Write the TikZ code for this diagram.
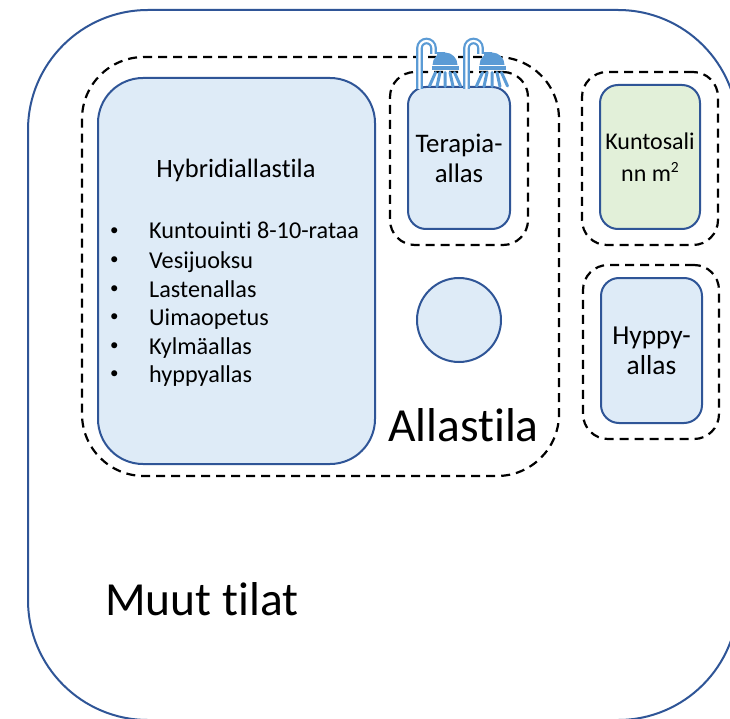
\documentclass[tikz,border=0pt]{standalone}
\usepackage{fontspec}
\setmainfont{Carlito}[Ligatures=NoCommon]
\definecolor{bord}{HTML}{2F5597}
\definecolor{lblue}{HTML}{DEEBF7}
\definecolor{lgreen}{HTML}{E2F0D9}
\definecolor{shw}{HTML}{5B9BD5}
\newcommand{\smallbullet}{\makebox[40pt][l]{\hspace{1pt}\raisebox{3.5pt}{\fontsize{17}{17}\selectfont •}}}
\tikzset{
  roomline/.style={draw=bord, line width=2pt},
  poolbox/.style={roomline, fill=lblue, inner sep=0pt, align=center},
  zonebox/.style={draw=black, line width=2.2pt, dash pattern=on 9pt off 6pt, inner sep=0pt},
  midtext/.style={font=\fontsize{26.5}{30}\selectfont},
  bigtext/.style={font=\fontsize{47.5}{56}\selectfont, inner sep=0pt},
  itemtext/.style={font=\fontsize{24.2}{30}\selectfont, inner sep=0pt, anchor=base west},
  showericon/.pic={
    \draw[shw, line width=2.2pt, double=white, double distance=2.2pt]
      (0,1) -- (0,-40) arc[start angle=180, end angle=360, radius=7] -- (14,-34);
    \fill[shw] (17.5,-36) rectangle (25.5,-32);
    \fill[shw] (13,-23) arc[start angle=180, end angle=360, radius=12.5] -- cycle;
    \fill[shw] (12,-21.6) rectangle (39,-18.4);
    \draw[shw, line width=3pt, line cap=round]
      (16,-15.5) -- (10,-2)
      (20.5,-15.5) -- (17.5,-1.5)
      (25.5,-15.5) -- (25.5,-1.5)
      (30.5,-15.5) -- (33.5,-1.5)
      (35,-15.5) -- (41,-2);
  }
}
\begin{document}
\begin{tikzpicture}[x=1pt,y=-1pt]
\useasboundingbox (0,0) rectangle (730,719);
\clip (0,0) rectangle (730,719);
\fill[white] (0,0) rectangle (730,719);
% outer space
\node[roomline, rounded corners=120pt, minimum width=710pt, minimum height=710pt, inner sep=0pt] (muut) at (383,365) {};
% pool hall zone
\node[zonebox, rounded corners=62pt, minimum width=477pt, minimum height=419pt] (allastila) at (320.5,266.5) {};
% hybrid pool
\node[poolbox, rounded corners=45pt, minimum width=277pt, minimum height=386pt] (hybrid) at (236.5,271) {};
% therapy pool
\node[zonebox, rounded corners=25pt, minimum width=138pt, minimum height=173pt] (terapiazone) at (459,158.5) {};
\node[poolbox, rounded corners=18pt, minimum width=102pt, minimum height=142pt, font=\fontsize{26.8}{30}\selectfont] (terapia) at (459,158) {Terapia-\\allas};
% round pool
\node[roomline, fill=lblue, circle, minimum size=84pt, inner sep=0pt] (pyorea) at (459,320) {};
% gym
\node[zonebox, rounded corners=25pt, minimum width=136pt, minimum height=173pt] (kuntozone) at (650,158.5) {};
\node[poolbox, fill=lgreen, rounded corners=18pt, minimum width=100pt, minimum height=144pt, font=\fontsize{24}{32}\selectfont] (kunto) at (650,157) {Kuntosali\\nn m\raisebox{8.5pt}{\fontsize{15.5}{15.5}\selectfont 2}};
% diving pool
\node[zonebox, rounded corners=25pt, minimum width=136pt, minimum height=174pt] (hyppyzone) at (651,352) {};
\node[poolbox, rounded corners=18pt, minimum width=101pt, minimum height=145pt, font=\fontsize{27.4}{30}\selectfont] (hyppy) at (651.5,350.5) {Hyppy-\\allas};
% texts
\node[midtext, inner sep=0pt, anchor=base] (hybridtitle) at (236,178) {Hybridiallastila};
\node[itemtext] (item1) at (109,239) {\smallbullet Kuntouinti 8-10-rataa};
\node[itemtext] (item2) at (109,268) {\smallbullet Vesijuoksu};
\node[itemtext] (item3) at (109,297) {\smallbullet Lastenallas};
\node[itemtext] (item4) at (109,325) {\smallbullet Uimaopetus};
\node[itemtext] (item5) at (109,354) {\smallbullet Kylmäallas};
\node[itemtext] (item6) at (109,382) {\smallbullet hyppyallas};
\node[bigtext, anchor=base west] (allastext) at (388,441) {Allastila};
\node[bigtext, anchor=base west] (muuttext) at (105,615) {Muut tilat};
% showers
\pic at (419.5,88) {showericon};
\pic at (466.5,88) {showericon};
\end{tikzpicture}
\end{document}
